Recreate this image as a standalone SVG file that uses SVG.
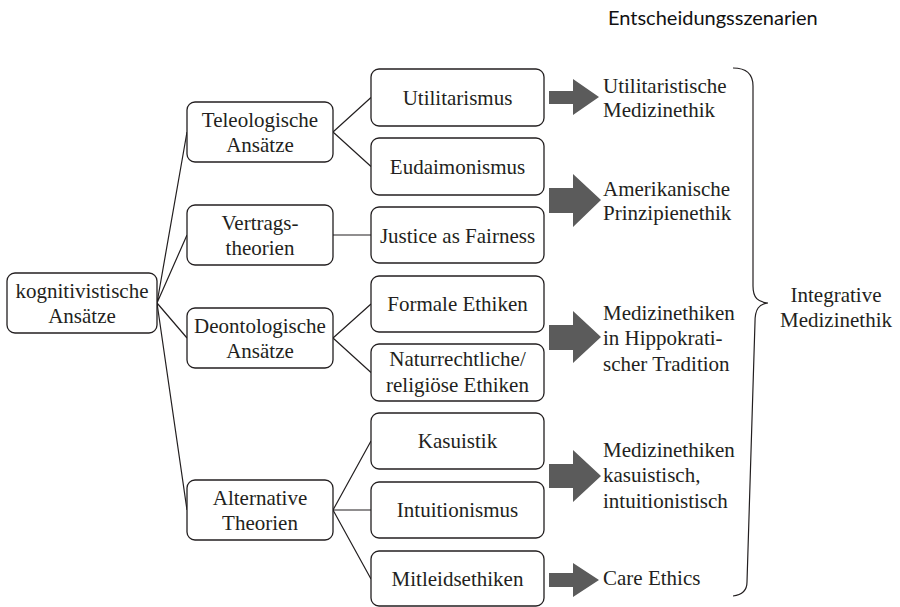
<svg xmlns="http://www.w3.org/2000/svg" width="900" height="607" viewBox="0 0 900 607">
<defs>
<style>
.box{fill:#fff;stroke:#231f20;stroke-width:1.3}
.t{font-size:21px;fill:#231f20;text-anchor:middle}
.l{font-size:21px;fill:#231f20}
.c{fill:none;stroke:#231f20;stroke-width:1.2}
.arr{fill:#5b5b5b}
</style>
</defs>
<rect width="900" height="607" fill="#fff"/>
<text x="608" y="25" font-family="Lato, 'Liberation Sans', sans-serif" font-size="20" fill="#111">Entscheidungsszenarien</text>

<g id="connectors">
<path class="c" d="M157,303 L187,132 M157,303 L187,235 M157,303 L187,338 M157,303 L187,510"/>
<path class="c" d="M333,132 L371,97.5 M333,132 L371,166.5 M333,235 L371,235 M333,338 L371,304 M333,338 L371,372.5 M333,510 L371,441 M333,510 L371,510 M333,510 L371,579"/>
</g>

<g font-family="'Liberation Serif', 'DejaVu Serif', serif">
<g id="root">
<rect class="box" x="7" y="273" width="150" height="60" rx="8"/>
<text class="t" x="82" y="298">kognitivistische</text>
<text class="t" x="82" y="323">Ansätze</text>
</g>

<g id="teleologisch">
<rect class="box" x="187" y="102" width="146" height="60" rx="8"/>
<text class="t" x="260" y="127">Teleologische</text>
<text class="t" x="260" y="152">Ansätze</text>
</g>
<g id="vertrag">
<rect class="box" x="187" y="205" width="146" height="60" rx="8"/>
<text class="t" x="260" y="230">Vertrags-</text>
<text class="t" x="260" y="255">theorien</text>
</g>
<g id="deontologisch">
<rect class="box" x="187" y="308" width="146" height="60" rx="8"/>
<text class="t" x="260" y="333">Deontologische</text>
<text class="t" x="260" y="358">Ansätze</text>
</g>
<g id="alternativ">
<rect class="box" x="187" y="480" width="146" height="60" rx="8"/>
<text class="t" x="260" y="505">Alternative</text>
<text class="t" x="260" y="530">Theorien</text>
</g>

<g id="utilitarismus">
<rect class="box" x="371" y="69" width="173" height="57" rx="8"/>
<text class="t" x="457.5" y="105">Utilitarismus</text>
</g>
<g id="eudaimonismus">
<rect class="box" x="371" y="138" width="173" height="57" rx="8"/>
<text class="t" x="457.5" y="174">Eudaimonismus</text>
</g>
<g id="justice">
<rect class="box" x="371" y="207" width="173" height="56" rx="8"/>
<text class="t" x="457.5" y="243">Justice as Fairness</text>
</g>
<g id="formale">
<rect class="box" x="371" y="276" width="173" height="56" rx="8"/>
<text class="t" x="457.5" y="311">Formale Ethiken</text>
</g>
<g id="naturrecht">
<rect class="box" x="371" y="344" width="173" height="57" rx="8"/>
<text class="t" x="457.5" y="366">Naturrechtliche/</text>
<text class="t" x="457.5" y="392">religiöse Ethiken</text>
</g>
<g id="kasuistik">
<rect class="box" x="371" y="413" width="173" height="56" rx="8"/>
<text class="t" x="457.5" y="448">Kasuistik</text>
</g>
<g id="intuitionismus">
<rect class="box" x="371" y="482" width="173" height="56" rx="8"/>
<text class="t" x="457.5" y="517">Intuitionismus</text>
</g>
<g id="mitleid">
<rect class="box" x="371" y="551" width="173" height="55" rx="8"/>
<text class="t" x="457.5" y="586">Mitleidsethiken</text>
</g>

<g id="arrows">
<polygon class="arr" points="549,91 573,91 573,79 599,97 573,115 573,104 549,104"/>
<polygon class="arr" points="549,188 573,188 573,174 601,200 573,227 573,213 549,213"/>
<polygon class="arr" points="549,325 573,325 573,311 601,337 573,363 573,350 549,350"/>
<polygon class="arr" points="549,464 573,464 573,450 601,476 573,502 573,488 549,488"/>
<polygon class="arr" points="549,573 573,573 573,563 599,580 573,597 573,587 549,587"/>
</g>

<g id="szenario-util">
<text class="l" x="603" y="93">Utilitaristische</text>
<text class="l" x="603" y="117">Medizinethik</text>
</g>
<g id="szenario-prinz">
<text class="l" x="603" y="196">Amerikanische</text>
<text class="l" x="603" y="220">Prinzipienethik</text>
</g>
<g id="szenario-hippo">
<text class="l" x="603" y="320">Medizinethiken</text>
<text class="l" x="603" y="345">in Hippokrati-</text>
<text class="l" x="603" y="371">scher Tradition</text>
</g>
<g id="szenario-kasu">
<text class="l" x="603" y="457">Medizinethiken</text>
<text class="l" x="603" y="482">kasuistisch,</text>
<text class="l" x="603" y="508">intuitionistisch</text>
</g>
<g id="szenario-care">
<text class="l" x="603" y="585">Care Ethics</text>
</g>

<g id="brace">
<path class="c" d="M733,68 C746,68 753,73 753,86 L753,286 C753,298 758,302 768,303 C759,304 755,309 755,322 L747,582 C747,591 742,595 733,596"/>
</g>
<g id="integrativ">
<text class="t" x="836" y="302">Integrative</text>
<text class="t" x="836" y="327">Medizinethik</text>
</g>
</g>
</svg>
